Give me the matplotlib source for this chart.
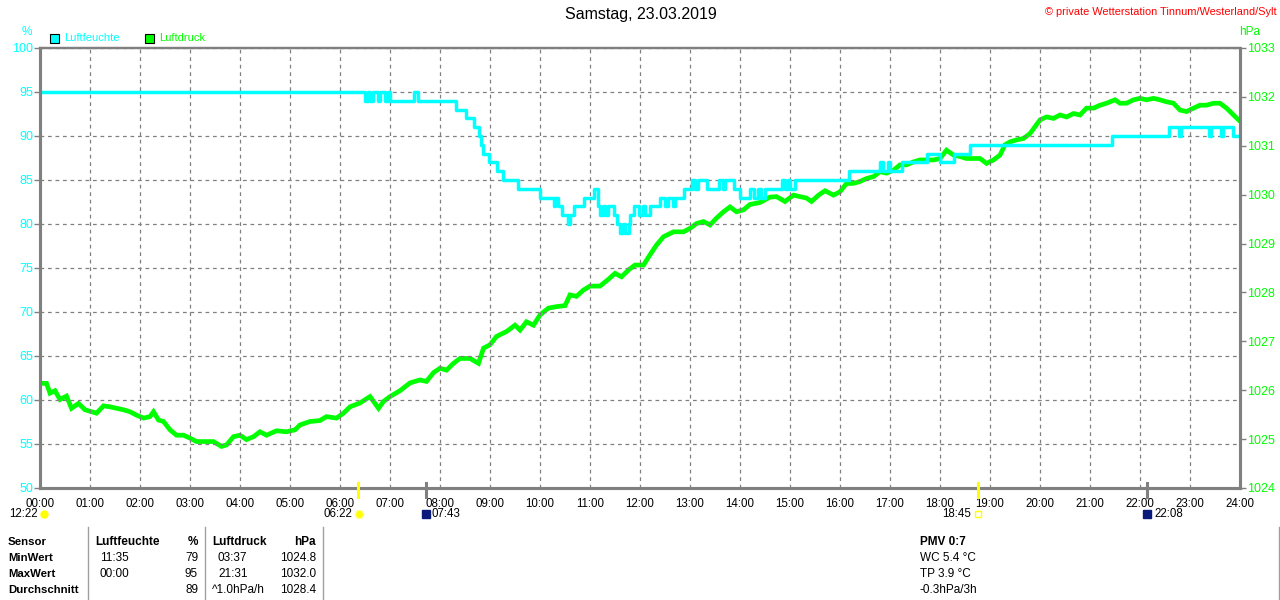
import matplotlib
matplotlib.use("Agg")
import matplotlib.pyplot as plt
import matplotlib.transforms as mtransforms

plt.rcParams['font.family'] = ['Liberation Sans', 'DejaVu Sans']

# --- data (hours since midnight) ---
hum_t = [0, 6.5, 6.55, 6.6, 6.65, 6.75, 6.8, 6.9, 6.95, 7.0, 7.48, 7.55,
         8.32, 8.53, 8.67, 8.77, 8.82, 8.87, 8.97, 9.13, 9.25, 9.55, 10.0,
         10.27, 10.3, 10.35, 10.43, 10.55, 10.6, 10.67, 10.87, 11.07, 11.15,
         11.2, 11.25, 11.3, 11.35, 11.47, 11.53, 11.6, 11.65, 11.7, 11.77,
         11.8, 11.87, 11.97, 12.05, 12.1, 12.2, 12.4, 12.5, 12.55, 12.65,
         12.7, 12.87, 13.03, 13.1, 13.15, 13.33, 13.57, 13.65, 13.7, 13.87,
         14.0, 14.2, 14.27, 14.35, 14.42, 14.5, 14.67, 14.83, 14.9, 14.95,
         15.0, 15.1, 16.17, 16.8, 16.85, 16.95, 17.0, 17.23, 17.73, 18.0,
         18.27, 18.6, 21.43, 22.57, 22.78, 22.82, 23.38, 23.42, 23.62, 23.66,
         23.85, 24.0]
hum_v = [95, 94, 95, 94, 95, 94, 95, 94, 95, 94, 95, 94,
         93, 92, 91, 90, 89, 88, 87, 86, 85, 84, 83,
         82, 83, 82, 81, 80, 81, 82, 83, 84, 82,
         81, 82, 81, 82, 81, 80, 79, 80, 79, 80,
         81, 82, 81, 82, 81, 82, 83, 82, 83, 82,
         83, 84, 85, 84, 85, 84, 85, 84, 85, 84,
         83, 84, 83, 84, 83, 84, 84, 85, 84, 85,
         84, 85, 86, 87, 86, 87, 86, 87, 88, 87,
         88, 89, 90, 91, 90, 91, 90, 91, 90, 91,
         90, 90]

pres_t = [0.0, 0.13, 0.2, 0.3, 0.4, 0.53, 0.63, 0.77, 0.9, 1.03, 1.13, 1.27,
          1.4, 1.53, 1.67, 1.8, 1.93, 2.07, 2.2, 2.27, 2.37, 2.47, 2.6, 2.73,
          2.87, 3.0, 3.13, 3.33, 3.47, 3.63, 3.73, 3.87, 4.0, 4.13, 4.27, 4.4,
          4.53, 4.73, 4.93, 5.1, 5.2, 5.4, 5.6, 5.73, 5.93, 6.07, 6.2, 6.4,
          6.6, 6.77, 6.87, 7.0, 7.2, 7.4, 7.6, 7.73, 7.87, 8.0, 8.13, 8.27,
          8.4, 8.6, 8.77, 8.87, 9.0, 9.13, 9.33, 9.5, 9.6, 9.73, 9.87, 10.0,
          10.17, 10.33, 10.5, 10.6, 10.73, 10.87, 11.0, 11.2, 11.37, 11.5,
          11.63, 11.77, 11.9, 12.07, 12.2, 12.33, 12.47, 12.67, 12.87, 13.0,
          13.13, 13.27, 13.4, 13.53, 13.67, 13.8, 13.93, 14.07, 14.2, 14.4,
          14.6, 14.73, 14.9, 15.07, 15.2, 15.33, 15.43, 15.57, 15.7, 15.87,
          16.0, 16.13, 16.27, 16.4, 16.53, 16.67, 16.8, 16.93, 17.07, 17.2,
          17.33, 17.47, 17.6, 17.73, 17.87, 18.0, 18.13, 18.27, 18.4, 18.53,
          18.67, 18.8, 18.93, 19.07, 19.2, 19.3, 19.4, 19.53, 19.67, 19.8,
          19.9, 20.0, 20.13, 20.27, 20.4, 20.53, 20.67, 20.8, 20.93, 21.07,
          21.2, 21.33, 21.5, 21.6, 21.73, 21.87, 22.0, 22.13, 22.27, 22.4,
          22.53, 22.67, 22.8, 22.93, 23.07, 23.2, 23.33, 23.47, 23.6, 23.73,
          23.87, 23.97]
pres_v = [1026.14, 1026.14, 1025.94, 1025.99, 1025.81, 1025.88, 1025.63, 1025.73,
          1025.60, 1025.56, 1025.53, 1025.68, 1025.66, 1025.63, 1025.60, 1025.56,
          1025.49, 1025.43, 1025.46, 1025.56, 1025.39, 1025.36, 1025.19, 1025.08,
          1025.08, 1025.02, 1024.95, 1024.95, 1024.95, 1024.85, 1024.88, 1025.05,
          1025.08, 1024.99, 1025.05, 1025.15, 1025.08, 1025.17, 1025.15, 1025.19,
          1025.29, 1025.36, 1025.38, 1025.46, 1025.43, 1025.53, 1025.66, 1025.74,
          1025.87, 1025.63, 1025.77, 1025.87, 1025.99, 1026.15, 1026.21, 1026.18,
          1026.36, 1026.45, 1026.41, 1026.55, 1026.65, 1026.65, 1026.55, 1026.86,
          1026.93, 1027.10, 1027.20, 1027.33, 1027.23, 1027.40, 1027.33, 1027.54,
          1027.68, 1027.71, 1027.73, 1027.95, 1027.92, 1028.05, 1028.13, 1028.13,
          1028.27, 1028.39, 1028.32, 1028.46, 1028.56, 1028.56, 1028.77, 1028.97,
          1029.14, 1029.24, 1029.24, 1029.31, 1029.41, 1029.45, 1029.38, 1029.52,
          1029.65, 1029.75, 1029.65, 1029.69, 1029.80, 1029.84, 1029.95, 1029.96,
          1029.86, 1029.99, 1029.96, 1029.93, 1029.86, 1029.99, 1030.08, 1029.99,
          1030.06, 1030.23, 1030.23, 1030.27, 1030.33, 1030.37, 1030.47, 1030.44,
          1030.50, 1030.61, 1030.61, 1030.67, 1030.71, 1030.71, 1030.71, 1030.74,
          1030.91, 1030.81, 1030.78, 1030.74, 1030.74, 1030.74, 1030.64, 1030.71,
          1030.81, 1031.02, 1031.08, 1031.12, 1031.15, 1031.25, 1031.39, 1031.53,
          1031.59, 1031.56, 1031.63, 1031.59, 1031.66, 1031.63, 1031.77, 1031.77,
          1031.83, 1031.87, 1031.94, 1031.87, 1031.87, 1031.94, 1031.97, 1031.94,
          1031.97, 1031.94, 1031.90, 1031.87, 1031.73, 1031.70, 1031.77, 1031.83,
          1031.83, 1031.87, 1031.87, 1031.77, 1031.63, 1031.53]

hour_labels = ["%02d:00" % h for h in range(25)]

# sun / moon events: (hour, colour of axis tick)
events = [(6 + 22 / 60, 'yellow'), (7 + 43 / 60, '#808080'),
          (18 + 45 / 60, 'yellow'), (22 + 8 / 60, '#808080')]

table_rows = [("Sensor", "Luftfeuchte", "%", "Luftdruck", "hPa"),
              ("MinWert", "11:35", "79", "03:37", "1024.8"),
              ("MaxWert", "00:00", "95", "21:31", "1032.0"),
              ("Durchschnitt", "", "89", "^1.0hPa/h", "1028.4")]
pmv_lines = ["PMV 0:7", "WC 5.4 °C", "TP 3.9 °C", "-0.3hPa/3h"]

CYAN = '#00ffff'
GREEN = '#00ff00'
GRAY = '#808080'

W, H = 1280, 600
fig = plt.figure(figsize=(W / 100, H / 100), dpi=100, facecolor='white')


def px(x, y):
    return x / W, 1 - y / H


ax = fig.add_axes([40 / W, 112 / H, 1200 / W, 440 / H])
ax2 = ax.twinx()

ax.set_xlim(0, 24)
ax.set_ylim(50, 100)
ax2.set_ylim(1024, 1033)

ax.set_xticks(range(25))
ax.set_xticklabels(hour_labels, fontsize=8.3)
ax.set_yticks(range(50, 101, 5))
ax.tick_params(axis='y', colors=GRAY, labelcolor=CYAN, labelsize=9,
               length=4, width=1, pad=1)
ax.tick_params(axis='x', colors=GRAY, labelcolor='black', length=0, pad=7)
ax2.set_yticks(range(1024, 1034))
ax2.tick_params(axis='y', colors=GRAY, labelcolor=GREEN, labelsize=9,
                length=4, width=1, pad=1)

ax.grid(True, color=GRAY, linestyle=(0, (3, 3)), linewidth=0.9)
for a in (ax, ax2):
    for s in a.spines.values():
        s.set_color(GRAY)
        s.set_linewidth(2.2)
    a.spines['top'].set_linewidth(1.6)

ax2.plot(pres_t, pres_v, color=GREEN, linewidth=3.4, solid_joinstyle='miter')
ax.plot(hum_t, hum_v, color=CYAN, linewidth=2.5, drawstyle='steps-post')
ax.set_zorder(ax2.get_zorder() + 1)
ax.patch.set_visible(False)

# event ticks on the time axis
trans = mtransforms.blended_transform_factory(ax.transData, ax.transAxes)
for t, c in events:
    ax.plot([t, t], [0.012, -0.02], color=c, linewidth=2.2, transform=trans,
            clip_on=False, zorder=5)

# event labels under the time axis
fs = 8.3
fig.text(*px(38, 514), "12:22", fontsize=fs, ha='right', va='center')
fig.lines.append(plt.Line2D([44 / W], [1 - 514 / H], marker='o', markersize=5,
                            color='yellow', transform=fig.transFigure))
fig.text(*px(352, 514), "06:22", fontsize=fs, ha='right', va='center')
fig.lines.append(plt.Line2D([359 / W], [1 - 514 / H], marker='o', markersize=6,
                            color='yellow', markeredgecolor='#ffff99',
                            transform=fig.transFigure))
fig.lines.append(plt.Line2D([426 / W], [1 - 514 / H], marker='s', markersize=6,
                            color='#0a1a7a', transform=fig.transFigure))
fig.text(*px(432, 514), "07:43", fontsize=fs, ha='left', va='center')
fig.text(*px(971, 514), "18:45", fontsize=fs, ha='right', va='center')
fig.lines.append(plt.Line2D([978 / W], [1 - 514 / H], marker='s', markersize=4,
                            color='none', markeredgecolor='yellow',
                            transform=fig.transFigure))
fig.lines.append(plt.Line2D([1147 / W], [1 - 514 / H], marker='s', markersize=6,
                            color='#0a1a7a', transform=fig.transFigure))
fig.text(*px(1154, 514), "22:08", fontsize=fs, ha='left', va='center')

# titles
fig.text(*px(641, 15), "Samstag, 23.03.2019", fontsize=11.5, ha='center', va='center')
fig.text(*px(1277, 12), "© private Wetterstation Tinnum/Westerland/Sylt",
         fontsize=7.9, color='red', ha='right', va='center')
fig.text(*px(27, 32), "%", fontsize=8.5, color=CYAN, ha='center', va='center')
fig.text(*px(1250, 32), "hPa", fontsize=8.5, color=GREEN, ha='center', va='center')

# legend
for x0, c, lab in [(50, CYAN, "Luftfeuchte"), (145, GREEN, "Luftdruck")]:
    fig.patches.append(plt.Rectangle(px(x0, 43), 9 / W, 9 / H, facecolor=c,
                                     edgecolor='black', linewidth=0.8,
                                     transform=fig.transFigure))
    fig.text(*px(x0 + 14, 38), lab, fontsize=8, color=c, ha='left', va='center')

# bottom table
for xl in (88, 205, 323, 1279):
    fig.lines.append(plt.Line2D([xl / W, xl / W], [1 - 527 / H, 0],
                                color='#a0a0a0', linewidth=1,
                                transform=fig.transFigure))
for i, row in enumerate(table_rows):
    y = 542 + 16 * i
    w = 'bold' if i == 0 else 'normal'
    fig.text(*px(8, y), row[0], fontsize=8.2, weight='bold', va='center')
    fig.text(*px(95 if i == 0 else 100, y), row[1], fontsize=8.5, weight=w, va='center')
    fig.text(*px(198, y), row[2], fontsize=8.5, weight=w, va='center', ha='right')
    fig.text(*px(212 if i in (0, 3) else 218, y), row[3], fontsize=8.5, weight=w,
             va='center')
    fig.text(*px(316, y), row[4], fontsize=8.5, weight=w, va='center', ha='right')
for i, s in enumerate(pmv_lines):
    fig.text(*px(920, 542 + 16 * i), s, fontsize=8.5,
             weight='bold' if i == 0 else 'normal', va='center')

fig.savefig("out.png", dpi=100, facecolor='white')
